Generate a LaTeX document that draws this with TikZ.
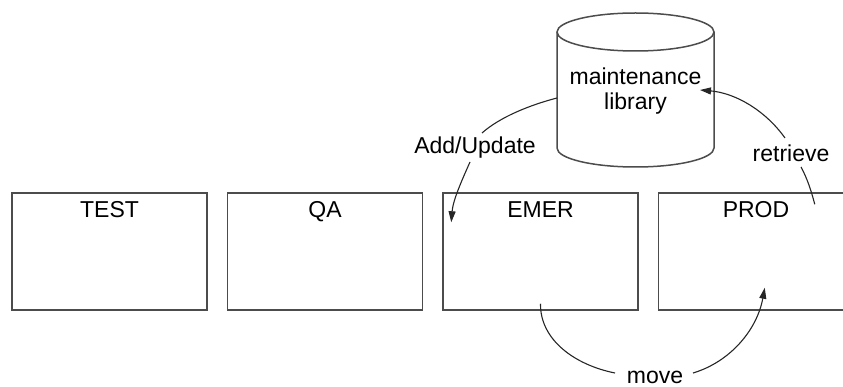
\documentclass[tikz,border=0pt]{standalone}
\usepackage{fontspec}
\setmainfont{Liberation Sans}
\usetikzlibrary{positioning,arrows.meta}
\begin{document}
\begin{tikzpicture}[x=1pt,y=-1pt,font=\fontsize{23}{25}\selectfont,
    stage/.style={draw=black!70, line width=1.5pt, minimum width=195pt, inner ysep=0pt, text height=25pt, text depth=92pt},
    link/.style={line width=1.1pt, black!85},
    flow/.style={link, -{Triangle[length=11pt,width=7pt]}},
    note/.style={anchor=base, inner sep=0pt}]
    \useasboundingbox (0,0) rectangle (843,387);
    \clip (0,0) rectangle (843,387);

    % Stages
    \node[stage] (test) at (109.5,251.5) {TEST};
    \node[stage, right=19pt of test] (qa) {QA};
    \node[stage, right=19pt of qa] (emer) {EMER};
    \node[stage, right=19pt of emer] (prod) {PROD};

    % Maintenance library
    \draw[draw=black!70, line width=1.5pt] (557,32) -- (557,148)
        arc[start angle=180, end angle=360, x radius=78.5pt, y radius=19pt] -- (714,32);
    \draw[draw=black!70, line width=1.5pt] (635.5,32) ellipse [x radius=78.5pt, y radius=19pt];
    \node[align=center, inner sep=0pt] (lib) at (635.5,91) {maintenance\\library};

    % Labels
    \node[note] (addlbl) at (475,154) {Add/Update};
    \node[note] (retlbl) at (791,162) {retrieve};
    \node[note, text depth=0pt] (movelbl) at (655,383) {move};

    % Ends of the connectors
    \coordinate (libout) at (557,98);
    \coordinate (libin) at (700,90);
    \coordinate (emerin) at ([shift={(9,30)}]emer.north west);
    \coordinate (emerout) at ([shift={(0,-7)}]emer.south);
    \coordinate (prodout) at ([shift={(157,12)}]prod.north west);
    \coordinate (prodin) at ([shift={(107,-23)}]prod.south west);

    % Add/Update
    \draw[link] (libout) .. controls (530,105) and (500,117) .. (482,133);
    \draw[flow] (470,162) .. controls (462,180) and (453,200) .. (emerin);

    % retrieve
    \draw[link] (prodout) .. controls (811,190) and (807,178) .. (801,167);
    \draw[flow] (785,138) .. controls (765,110) and (735,93) .. (libin);

    % move
    \draw[link] (emerout) .. controls (540,340) and (575,365) .. (615,373);
    \draw[flow] (693,373) .. controls (730,362) and (757,330) .. (prodin);
\end{tikzpicture}
\end{document}
